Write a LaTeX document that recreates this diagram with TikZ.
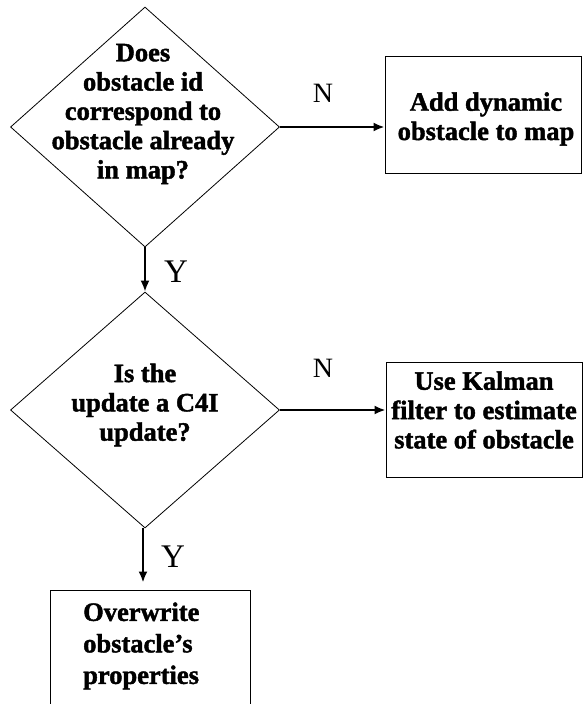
\documentclass[tikz,border=0pt]{standalone}
\usepackage{fontspec}
\setmainfont[BoldFeatures={FakeBold=1.6}]{Liberation Serif}
\usetikzlibrary{shapes.geometric,arrows.meta}
\begin{document}
\begin{tikzpicture}[x=1pt,y=-1pt,
  decision/.style={draw,diamond,inner sep=0pt,line width=0.8pt,minimum width=269pt},
  process/.style={draw,rectangle,inner sep=0pt,line width=1pt},
  bodytext/.style={inner sep=0pt,font=\fontsize{26.5}{29.3}\selectfont\bfseries},
  flow/.style={-{Latex[length=11pt,width=9pt]},line width=2pt},
  branch/.style={inner sep=0pt,font=\fontsize{28}{30}\selectfont},
  yesmark/.style={inner sep=0pt,font=\fontsize{33}{36}\selectfont}]
\useasboundingbox (0,0) rectangle (583,704);

% decisions
\node[decision,minimum height=240pt] (d1) at (145,127) {};
\node[bodytext,align=center] (d1t) at (143,114)
  {Does\\obstacle id\\correspond to\\obstacle already\\in map?};
\node[decision,minimum height=236pt] (d2) at (145,410) {};
\node[bodytext,align=center] (d2t) at (145,405)
  {Is the\\update a C4I\\update?};

% actions
\node[process,minimum width=196pt,minimum height=117pt] (b1) at (483,114.5) {};
\node[bodytext,align=center] (b1t) at (486,119)
  {Add dynamic\\obstacle to map};
\node[process,minimum width=196pt,minimum height=115pt] (b2) at (484,419.5) {};
\node[bodytext,align=center] (b2t) at (484,410)
  {Use Kalman\\filter to estimate\\state of obstacle};
\node[process,minimum width=200pt,minimum height=140pt] (b3) at (150,660) {};
\node[bodytext,align=left,anchor=west,font=\fontsize{26.5}{31.5}\selectfont\bfseries] (b3t) at (83,646)
  {Overwrite\\obstacle’s\\properties};

% connectors
\draw[flow] (d1.east) -- (d1.east -| b1.west);
\draw[flow] (d2.east) -- (d2.east -| b2.west);
\draw[flow] (d1.south) -- (d2.north);
\coordinate (d2out) at ([xshift=-2pt]d2.south);
\draw[flow,shorten >=7pt] (d2out) -- (d2out |- b3.north);

% branch labels
\node[branch] (n1) at (323,93) {N};
\node[branch] (n2) at (323,368) {N};
\node[yesmark] (y1) at (176,272) {Y};
\node[yesmark] (y2) at (173,557) {Y};
\end{tikzpicture}
\end{document}
